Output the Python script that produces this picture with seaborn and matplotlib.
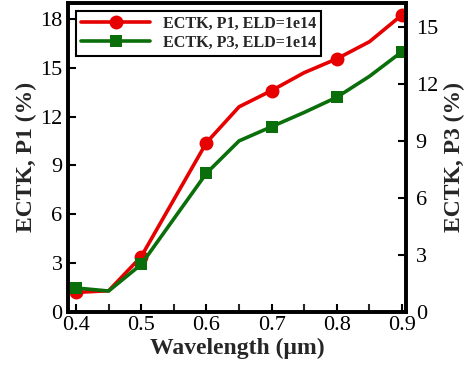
import numpy as np
import pandas as pd
import matplotlib
matplotlib.use("Agg")
import matplotlib.pyplot as plt
import seaborn as sns

# --- Data ---
wavelength = [0.40, 0.45, 0.50, 0.55, 0.60, 0.65, 0.70, 0.75, 0.80, 0.85, 0.90]
p1_values = [1.2, 1.3, 3.4, 6.9, 10.4, 12.6, 13.6, 14.7, 15.55, 16.6, 18.25]
p3_values = [1.26, 1.1, 2.5, 4.9, 7.3, 9.0, 9.75, 10.5, 11.3, 12.4, 13.7]
p1_label = "ECTK, P1, ELD=1e14"
p3_label = "ECTK, P3, ELD=1e14"

# measured points only at every 0.1 um
mask = [0, 2, 4, 6, 8, 10]

df = pd.DataFrame({"Wavelength": wavelength, "P1": p1_values, "P3": p3_values})

sns.set_style("ticks")
plt.rcParams["font.family"] = ["Liberation Serif", "DejaVu Serif"]

fig = plt.figure(figsize=(4.74, 3.7), dpi=100)
ax = fig.add_axes([0.1435, 0.157, 0.713, 0.835])
ax2 = ax.twinx()

red = "#e60000"
green = "#0a6e0a"

sns.lineplot(x="Wavelength", y="P1", data=df, ax=ax, color=red, lw=2.6,
             marker="o", markersize=10, markevery=mask, markeredgewidth=0,
             label=p1_label, legend=False)
sns.lineplot(x="Wavelength", y="P3", data=df, ax=ax2, color=green, lw=2.6,
             marker="s", markersize=8, markevery=mask, markeredgewidth=0,
             label=p3_label, legend=False)

ax.set_xlim(0.3877, 0.906)
ax.set_ylim(0, 18.98)
ax2.set_ylim(0, 16.26)
ax.set_xticks([0.4, 0.5, 0.6, 0.7, 0.8, 0.9])
ax.set_xticks(np.arange(0.45, 0.9, 0.1), minor=True)
ax.set_yticks([0, 3, 6, 9, 12, 15, 18])
ax2.set_yticks([0, 3, 6, 9, 12, 15])

for a in (ax, ax2):
    for s in a.spines.values():
        s.set_linewidth(2.6)
        s.set_color("black")
    a.tick_params(direction="in", length=6, width=1.5, labelsize=16, pad=4,
                  colors="black")
    a.tick_params(which="minor", direction="in", length=6, width=1.5)
ax.tick_params(axis="y", right=False)
ax2.tick_params(axis="y", left=False, pad=7)
ax.tick_params(axis="x", top=False, pad=3)

ax.set_xlabel("Wavelength (μm)", fontsize=17, fontweight="bold", labelpad=2)
ax.set_ylabel("ECTK, P1 (%)", fontsize=17, fontweight="bold", labelpad=2)
ax2.set_ylabel("ECTK, P3 (%)", fontsize=17, fontweight="bold", labelpad=4)

h1, l1 = ax.get_legend_handles_labels()
h2, l2 = ax2.get_legend_handles_labels()
leg = ax2.legend(h1 + h2, l1 + l2, loc="upper left", fancybox=False,
                 edgecolor="black", framealpha=1,
                 prop={"weight": "bold", "size": 11.6},
                 handlelength=4.3, handletextpad=0.8, borderaxespad=0.5,
                 borderpad=0.3, labelspacing=0.2)
leg.get_frame().set_linewidth(1.5)

fig.savefig("out.png", dpi=100)
